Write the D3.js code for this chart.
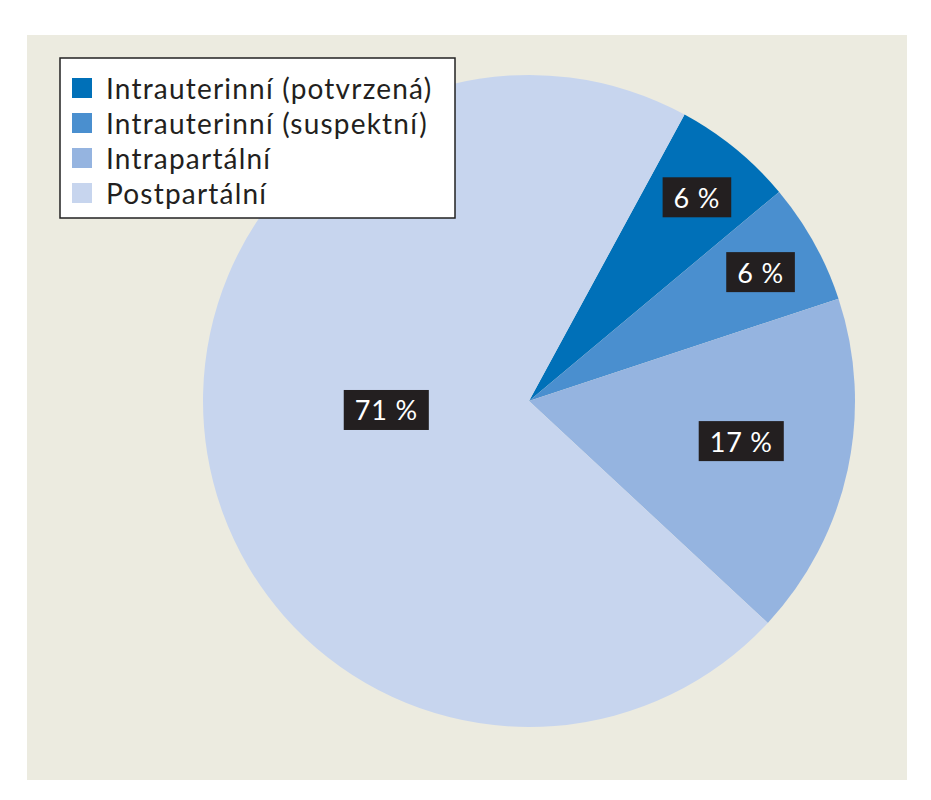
<!DOCTYPE html>
<html><head><meta charset="utf-8">
<script src="https://cdn.jsdelivr.net/npm/d3@7"></script>
<style>body{margin:0;background:#fff}</style></head>
<body><svg id="c" width="931" height="800"></svg>
<script>
const categories = ["Intrauterinní (potvrzená)", "Intrauterinní (suspektní)", "Intrapartální", "Postpartální"];
const values = [6, 6, 17, 71];
const labels = ["6 %", "6 %", "17 %", "71 %"];
const colors = ["#0070b8", "#4a8fcf", "#95b4e0", "#c7d5ee"];
const labelAngle = [39.5, 60.9, 100.7, 266.4];
const labelRadius = [264, 265, 216, 143];

const svg = d3.select("#c");
svg.append("rect").attr("x",27).attr("y",35).attr("width",880).attr("height",745).attr("fill","#ecebe0");
const cx=529, cy=401, R=326;
const start = 28.5*Math.PI/180;
const pie = d3.pie().sort(null).startAngle(start).endAngle(start+2*Math.PI);
const arcs = pie(values);
const arc = d3.arc().innerRadius(0).outerRadius(R);
const g = svg.append("g").attr("transform",`translate(${cx},${cy})`);
g.selectAll("path").data(arcs).join("path").attr("d",arc).attr("fill",(d,i)=>colors[i]);
arcs.forEach((d,i)=>{
  const a=labelAngle[i]*Math.PI/180, r=labelRadius[i];
  const x=r*Math.sin(a), y=-r*Math.cos(a);
  const t=g.append("text").attr("x",x).attr("y",y).attr("text-anchor","middle").attr("dominant-baseline","central")
    .attr("font-family","Lato, sans-serif").attr("font-size",27).attr("letter-spacing",0.8).attr("fill","#fff").text(labels[i]);
  const b=t.node().getBBox();
  g.insert("rect","text").attr("x",b.x-11).attr("y",y-20).attr("width",b.width+22).attr("height",40).attr("fill","#231f20");
});
g.selectAll("text").raise();
const lg=svg.append("g");
lg.append("rect").attr("x",60).attr("y",58).attr("width",395).attr("height",160).attr("fill","#fff").attr("stroke","#222").attr("stroke-width",1.5);
categories.forEach((c,i)=>{
  const y=88+i*35;
  lg.append("rect").attr("x",72).attr("y",y-10).attr("width",20).attr("height",20).attr("fill",colors[i]);
  lg.append("text").attr("x",106).attr("y",y).attr("dominant-baseline","central").attr("font-family","Lato, sans-serif")
    .attr("font-size",28).attr("letter-spacing",1.2).attr("fill","#231f20").text(c);
});
</script></body></html>
